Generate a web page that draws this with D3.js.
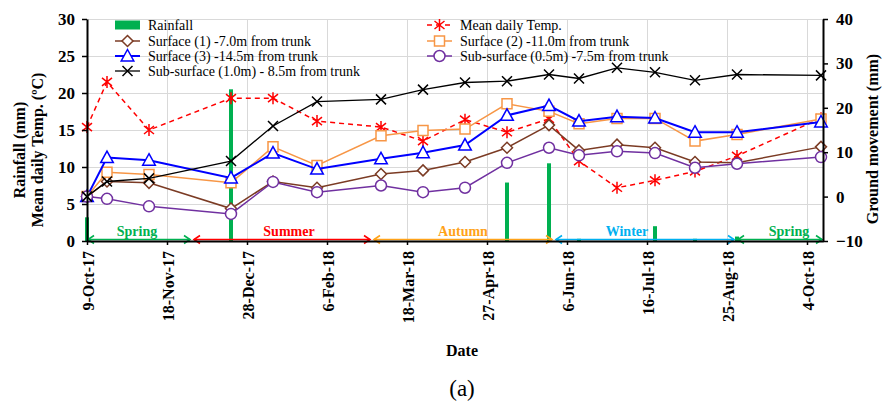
<!DOCTYPE html>
<html>
<head>
<meta charset="utf-8">
<script src="https://cdn.jsdelivr.net/npm/d3@7"></script>
<style>
  body { margin: 0; background: #fff; }
  svg { display: block; }
  text { font-family: "Liberation Serif", "Times New Roman", serif; }
</style>
</head>
<body>
<svg id="chart" width="883" height="404"></svg>
<script>
// Sampling dates of the monitoring campaign
const sampleDates = ["2017-10-09","2017-10-19","2017-11-09","2017-12-20","2018-01-10","2018-02-01",
  "2018-03-05","2018-03-26","2018-04-16","2018-05-07","2018-05-28","2018-06-12",
  "2018-07-01","2018-07-20","2018-08-09","2018-08-30","2018-10-11"];

// Rainfall (mm) and mean daily temperature (ºC) – left axis
const rainfall = [3.2, 0, 0, 20.5, 0, 0, 0, 0, 0, 7.9, 10.5, 0.3, 0, 2.0, 0.3, 0.6, 0];
const meanTemp = [15.4, 21.5, 15.0, 19.3, 19.3, 16.2, 15.4, 13.5, 16.4, 14.7, 16.5, 10.8, 7.2, 8.2, 9.4, 11.5, 16.6];

// Ground movement (mm) – right axis
const surface1 = [0, 3.4, 3.1, -2.7, 3.4, 2.0, 5.1, 5.9, 7.8, 11.0, 16.1, 10.4, 11.7, 11.0, 7.8, 7.6, 11.2];
const surface2 = [0, 5.5, 5.0, 3.1, 11.2, 7.0, 13.7, 14.9, 15.2, 20.9, 19.2, 16.4, 17.6, 17.6, 12.5, 14.0, 17.5];
const surface3 = [0, 8.8, 8.2, 4.2, 9.8, 6.2, 8.5, 9.9, 11.6, 18.3, 20.5, 17.0, 18.0, 17.7, 14.5, 14.5, 16.8];
const subSurface05 = [0, -0.5, -2.2, -3.9, 3.3, 1.0, 2.5, 1.0, 2.0, 7.6, 11.0, 9.3, 10.2, 9.8, 6.5, 7.4, 8.9];
const subSurface10 = [0, 3.4, 4.1, 8.0, 15.9, 21.4, 21.9, 24.1, 25.7, 26.0, 27.5, 26.6, 29.0, 28.0, 26.2, 27.5, 27.3];

// Axis ticks
const xTickDates = ["2017-10-09","2017-11-18","2017-12-28","2018-02-06","2018-03-18",
  "2018-04-27","2018-06-06","2018-07-16","2018-08-25","2018-10-04"];
const leftTicks = [0, 5, 10, 15, 20, 25, 30];
const rightTicks = [-10, 0, 10, 20, 30, 40];

// Seasons: name, start, end, label position
const seasonNames = ["Spring", "Summer", "Autumn", "Winter", "Spring"];
const seasonStart = ["2017-10-09","2017-12-01","2018-03-01","2018-05-31","2018-08-30"];
const seasonEnd   = ["2017-11-30","2018-02-28","2018-05-30","2018-08-29","2018-10-12"];
const seasonLabelAt = ["2017-11-03","2018-01-18","2018-04-15","2018-07-06","2018-09-25"];
const seasonColors = ["#00b050","#ff0000","#ffa31a","#00b0f0","#00b050"];

const parse = d3.utcParse("%Y-%m-%d");
const fmt = d3.utcFormat("%-d-%b-%y");
const dates = sampleDates.map(parse);

const svg = d3.select("#chart");
const plotLeft = 87, plotRight = 823, plotTop = 19, plotBottom = 241;

const x = d3.scaleUtc().domain([parse("2017-10-09"), parse("2018-10-12")]).range([plotLeft, plotRight]);
const yL = d3.scaleLinear().domain([0, 30]).range([plotBottom, plotTop]);
const yR = d3.scaleLinear().domain([-10, 40]).range([plotBottom, plotTop]);

// Gridlines
const grid = svg.append("g").attr("stroke", "#d9d9d9").attr("stroke-width", 1);
grid.selectAll("line.h").data(leftTicks).join("line").attr("class", "h")
  .attr("x1", plotLeft).attr("x2", plotRight)
  .attr("y1", d => yL(d) + 0.5).attr("y2", d => yL(d) + 0.5);
grid.selectAll("line.v").data(xTickDates.map(parse)).join("line").attr("class", "v")
  .attr("x1", d => x(d) + 0.5).attr("x2", d => x(d) + 0.5)
  .attr("y1", plotTop).attr("y2", plotBottom);

// Rainfall bars
svg.append("g").selectAll("rect").data(rainfall.map((v, i) => ({d: dates[i], v})).filter(o => o.v > 0))
  .join("rect")
  .attr("x", o => x(o.d) - 2).attr("width", 4)
  .attr("y", o => yL(o.v)).attr("height", o => yL(0) - yL(o.v))
  .attr("fill", "#00b050");

// Season arrows
const seasons = svg.append("g");
seasonNames.forEach((name, i) => {
  const x0 = x(parse(seasonStart[i])) + 1, x1 = x(parse(seasonEnd[i])) - 1, yy = 239.5;
  const c = seasonColors[i];
  const g = seasons.append("g").attr("stroke", c).attr("stroke-width", 1.6).attr("fill", "none");
  g.append("line").attr("x1", x0).attr("x2", x1).attr("y1", yy).attr("y2", yy);
  g.append("path").attr("d", `M${x0 + 6},${yy - 4}L${x0},${yy}L${x0 + 6},${yy + 4}`);
  g.append("path").attr("d", `M${x1 - 6},${yy - 4}L${x1},${yy}L${x1 - 6},${yy + 4}`);
  seasons.append("text")
    .attr("x", x(parse(seasonLabelAt[i]))).attr("y", 236)
    .attr("text-anchor", "middle").attr("font-size", 14).attr("font-weight", "bold")
    .attr("fill", c).text(name);
});

// Marker shapes
const markers = {
  star: "M0,-6L0,6M-5,-4L5,4M-5,4L5,-4",
  diamond: "M0,-5.5L5.5,0L0,5.5L-5.5,0Z",
  square: "M-5,-5H5V5H-5Z",
  triangle: "M0,-6.5L6.3,5L-6.3,5Z",
  circle: "M-5.5,0A5.5,5.5 0 1,0 5.5,0A5.5,5.5 0 1,0 -5.5,0Z",
  cross: "M-5,-5L5,5M-5,5L5,-5"
};

const lineSeries = [
  {name: "Mean daily Temp.", values: meanTemp, y: yL, color: "#ff0000", width: 1.5, dash: "5,4", marker: "star", fill: "none"},
  {name: "Surface (1) -7.0m from trunk", values: surface1, y: yR, color: "#7b3b24", width: 1.5, marker: "diamond", fill: "#fff"},
  {name: "Surface (2) -11.0m from trunk", values: surface2, y: yR, color: "#f79646", width: 1.5, marker: "square", fill: "#fff"},
  {name: "Surface (3) -14.5m from trunk", values: surface3, y: yR, color: "#0000ff", width: 2, marker: "triangle", fill: "#fff"},
  {name: "Sub-surface (0.5m) -7.5m from trunk", values: subSurface05, y: yR, color: "#7030a0", width: 1.5, marker: "circle", fill: "#fff"},
  {name: "Sub-surface (1.0m) - 8.5m from trunk", values: subSurface10, y: yR, color: "#000000", width: 1.3, marker: "cross", fill: "none"}
];

lineSeries.forEach(s => {
  const g = svg.append("g");
  const line = d3.line().x((v, i) => x(dates[i])).y(v => s.y(v));
  g.append("path").attr("d", line(s.values)).attr("fill", "none")
    .attr("stroke", s.color).attr("stroke-width", s.width)
    .attr("stroke-dasharray", s.dash || null);
  g.selectAll("path.m").data(s.values).join("path").attr("class", "m")
    .attr("transform", (v, i) => `translate(${x(dates[i])},${s.y(v)})`)
    .attr("d", markers[s.marker]).attr("fill", s.fill)
    .attr("stroke", s.color).attr("stroke-width", 1.5);
});

// Axes
const tickFont = sel => sel.selectAll("text")
  .attr("font-family", "Liberation Serif, serif").attr("font-size", 17)
  .attr("font-weight", "bold").attr("fill", "#000");

const axL = svg.append("g").attr("transform", `translate(${plotLeft},0)`)
  .call(d3.axisLeft(yL).tickValues(leftTicks).tickSize(5).tickSizeOuter(0).tickPadding(7));
const axR = svg.append("g").attr("transform", `translate(${plotRight},0)`)
  .call(d3.axisRight(yR).tickValues(rightTicks).tickSize(5).tickSizeOuter(0).tickPadding(8));
const axB = svg.append("g").attr("transform", `translate(0,${plotBottom})`)
  .call(d3.axisBottom(x).tickValues(xTickDates.map(parse)).tickFormat(fmt).tickSize(4).tickSizeOuter(0));
[axL, axR, axB].forEach(a => {
  a.select(".domain").attr("stroke", "#000").attr("stroke-width", 2);
  a.selectAll(".tick line").attr("stroke", "#000").attr("stroke-width", 1.5);
  tickFont(a);
});
axB.selectAll(".tick text")
  .attr("transform", "rotate(-90)")
  .attr("text-anchor", "end")
  .attr("x", -10).attr("y", 1).attr("dy", "0.35em")
  .attr("font-size", 16);

// Axis titles
svg.append("text").attr("transform", "translate(25,150) rotate(-90)")
  .attr("text-anchor", "middle").attr("font-size", 16).attr("font-weight", "bold")
  .text("Rainfall (mm)");
svg.append("text").attr("transform", "translate(43,150) rotate(-90)")
  .attr("text-anchor", "middle").attr("font-size", 16).attr("font-weight", "bold")
  .text("Mean daily Temp. (ºC)");
svg.append("text").attr("transform", "translate(878,139) rotate(-90)")
  .attr("text-anchor", "middle").attr("font-size", 16).attr("font-weight", "bold")
  .text("Ground movement (mm)");
svg.append("text").attr("x", 462).attr("y", 356)
  .attr("text-anchor", "middle").attr("font-size", 16).attr("font-weight", "bold")
  .text("Date");
svg.append("text").attr("x", 462).attr("y", 396)
  .attr("text-anchor", "middle").attr("font-size", 23)
  .text("(a)");

// Legend
const legendItems = [{name: "Rainfall", bar: true}, ...lineSeries];
const legendCols = [115, 427], legendRows = [25, 41, 56, 71];
legendItems.forEach((it, i) => {
  const lx = legendCols[i % 2], ly = legendRows[Math.floor(i / 2)];
  const g = svg.append("g");
  if (it.bar) {
    g.append("rect").attr("x", lx).attr("y", ly - 4.5).attr("width", 25).attr("height", 9).attr("fill", "#00b050");
  } else {
    g.append("line").attr("x1", lx).attr("x2", lx + 25).attr("y1", ly).attr("y2", ly)
      .attr("stroke", it.color).attr("stroke-width", it.width).attr("stroke-dasharray", it.dash || null);
    g.append("path").attr("transform", `translate(${lx + 12.5},${ly})`)
      .attr("d", markers[it.marker]).attr("fill", it.fill)
      .attr("stroke", it.color).attr("stroke-width", 1.5);
  }
  g.append("text").attr("x", lx + 33).attr("y", ly).attr("dy", "0.35em")
    .attr("font-size", 14).attr("fill", "#000").text(it.name);
});
</script>
</body>
</html>
